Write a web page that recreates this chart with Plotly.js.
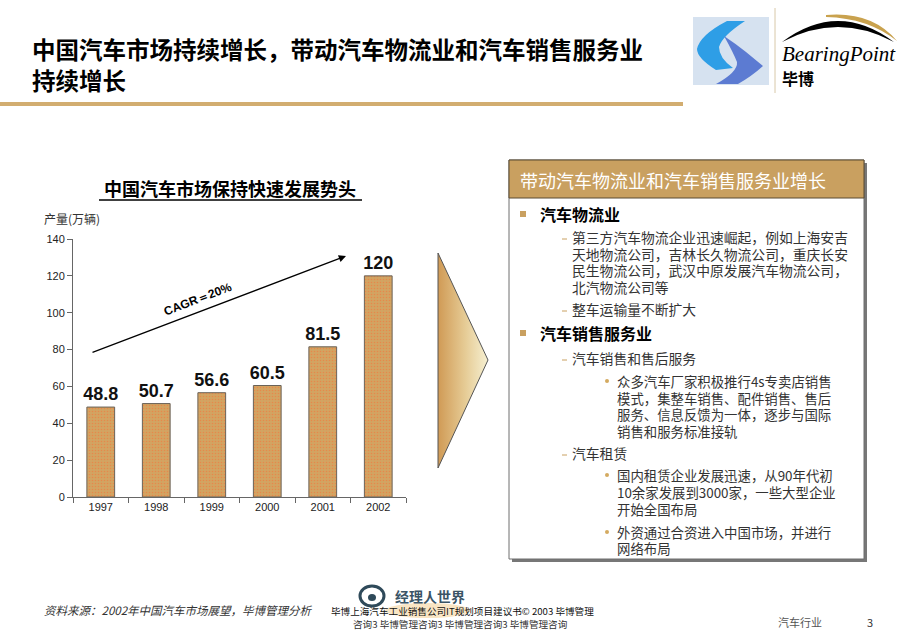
<!DOCTYPE html>
<html>
<head>
<meta charset="utf-8">
<script src="https://cdn.plot.ly/plotly-3.0.1.min.js"></script>
<style>
html,body{margin:0;padding:0;background:#fff;}
#chart{width:920px;height:637px;}
</style>
</head>
<body>
<div id="chart"></div>
<script>
// ---- data ----
var years = ['1997', '1998', '1999', '2000', '2001', '2002'];
var production = [48.8, 50.7, 56.6, 60.5, 81.5, 120];
var yTicks = [0, 20, 40, 60, 80, 100, 120, 140];

var pageTitle1 = '中国汽车市场持续增长，带动汽车物流业和汽车销售服务业';
var pageTitle2 = '持续增长';
var chartTitle = '中国汽车市场保持快速发展势头';
var yLabel = '产量(万辆)';
var cagrLabel = 'CAGR＝20%';
var panelTitle = '带动汽车物流业和汽车销售服务业增长';
var panelLines = [
  {lvl: 0, t: '汽车物流业'},
  {lvl: 1, t: '第三方汽车物流企业迅速崛起，例如上海安吉', mark: true},
  {lvl: 1, t: '天地物流公司，吉林长久物流公司，重庆长安'},
  {lvl: 1, t: '民生物流公司，武汉中原发展汽车物流公司，'},
  {lvl: 1, t: '北汽物流公司等'},
  {lvl: 1, t: '整车运输量不断扩大', mark: true},
  {lvl: 0, t: '汽车销售服务业'},
  {lvl: 1, t: '汽车销售和售后服务', mark: true},
  {lvl: 2, t: '众多汽车厂家积极推行4s专卖店销售', mark: true},
  {lvl: 2, t: '模式，集整车销售、配件销售、售后'},
  {lvl: 2, t: '服务、信息反馈为一体，逐步与国际'},
  {lvl: 2, t: '销售和服务标准接轨'},
  {lvl: 1, t: '汽车租赁', mark: true},
  {lvl: 2, t: '国内租赁企业发展迅速，从90年代初', mark: true},
  {lvl: 2, t: '10余家发展到3000家，一些大型企业'},
  {lvl: 2, t: '开始全国布局'},
  {lvl: 2, t: '外资通过合资进入中国市场，并进行', mark: true},
  {lvl: 2, t: '网络布局'}
];
var panelY = [214, 237, 253.5, 270, 287, 309, 333, 358, 381, 397.5, 414, 431, 453, 475, 492, 509, 532, 548];
var sourceText = '资料来源：2002年中国汽车市场展望，毕博管理分析';
var footer1 = '毕博上海汽车工业销售公司IT规划项目建议书© 2003 毕博管理';
var footer2 = '咨询3 毕博管理咨询3 毕博管理咨询3 毕博管理咨询';
var sectionText = '汽车行业';
var pageNum = '3';

// ---- layout helpers (pixel overlay axes x2/y2) ----
var W = 920, H = 637;
var CJK = '"Noto Sans CJK SC", "Noto Sans", sans-serif';
var ARIAL = 'Arial, "Liberation Sans", sans-serif';

var plotL = 73, plotR = 406, plotT = 239, plotB = 497;

var shapes = [];
var ann = [];
function rect(x0, y0, x1, y1, fill, line, lw) {
  shapes.push({type: 'rect', xref: 'x2', yref: 'y2', x0: x0, y0: y0, x1: x1, y1: y1,
    fillcolor: fill, line: {color: line || fill, width: lw === undefined ? 0 : lw}, layer: 'above'});
}
function txt(x, y, t, size, color, opts) {
  opts = opts || {};
  ann.push({xref: 'x2', yref: 'y2', x: x, y: y, text: t, showarrow: false,
    xanchor: opts.xa || 'left', yanchor: opts.ya || 'middle', align: opts.align || 'left',
    textangle: opts.angle || 0,
    font: {family: opts.family || CJK, size: size, color: color, weight: opts.weight || 'normal', style: opts.style || 'normal'},
    borderpad: 0});
}

// page title
txt(31, 31, pageTitle1 + '<br>' + pageTitle2, 23.5, '#000', {weight: 'bold', ya: 'top'});
rect(0, 102, 683, 106, '#D2AD70');

// logo
rect(693, 17, 769, 85, '#D6E2F0');
shapes.push({type: 'path', xref: 'x2', yref: 'y2', layer: 'above',
  path: 'M 727 21 L 745 21 Q 722 36 719 47 Q 719 58 733 68 L 716 70 Q 697 58 697 49 Q 700 35 727 21 Z',
  fillcolor: '#2E9EE6', line: {width: 0}});
shapes.push({type: 'path', xref: 'x2', yref: 'y2', layer: 'above',
  path: 'M 724 36 Q 736 44 746 52 L 763 66 Q 752 76 738 84 L 716 84 Q 738 72 737 62 Q 733 52 724 36 Z',
  fillcolor: '#5C7BD2', line: {width: 0}});
shapes.push({type: 'line', xref: 'x2', yref: 'y2', x0: 775, x1: 775, y0: 8, y1: 93,
  line: {color: '#D8C8A8', width: 1}, layer: 'above'});
shapes.push({type: 'path', xref: 'x2', yref: 'y2', layer: 'above',
  path: 'M 782 42 Q 838 0 894 42 Q 838 12 782 42 Z', fillcolor: '#000', line: {width: 0}});
shapes.push({type: 'path', xref: 'x2', yref: 'y2', layer: 'above',
  path: 'M 826 15 Q 872 11 897 41 Q 868 18 826 17 Z', fillcolor: '#C9A24E', line: {width: 0}});
txt(781, 54, 'BearingPoint', 21, '#000', {family: '"Liberation Serif", "DejaVu Serif", serif', style: 'italic'});
txt(781, 78, '毕博', 16, '#000', {weight: 'bold'});

// chart title + labels
txt(230, 188, chartTitle, 18, '#000', {xa: 'center', weight: 'bold'});
shapes.push({type: 'line', xref: 'x2', yref: 'y2', x0: 99, x1: 362, y0: 200, y1: 200,
  line: {color: '#000', width: 1.5}, layer: 'above'});
txt(43, 218, yLabel, 12, '#333');

// CAGR arrow
ann.push({xref: 'x2', yref: 'y2', axref: 'x2', ayref: 'y2', x: 346, y: 256, ax: 91, ay: 353,
  showarrow: true, arrowhead: 2, arrowsize: 1.2, arrowwidth: 1.2, arrowcolor: '#000', text: ''});
txt(198, 299, '<b>' + cagrLabel + '</b>', 12, '#000', {xa: 'center', family: ARIAL, angle: -21});

// right panel
rect(512, 163, 867, 562, '#777');           // shadow
rect(509, 160, 864, 559, '#FFFFFF', '#6E6E6E', 1);
rect(509, 160, 864, 198, '#C9A060', '#5A4A30', 1);
txt(519, 180, panelTitle, 18, '#FFFFFF');
for (var i = 0; i < panelLines.length; i++) {
  var L = panelLines[i], y = panelY[i];
  if (L.lvl === 0) {
    rect(520, y - 3, 526, y + 3, '#C9A060');
    txt(539, y, L.t, 16, '#000', {weight: 'bold'});
  } else if (L.lvl === 1) {
    if (L.mark) shapes.push({type: 'line', xref: 'x2', yref: 'y2', x0: 562, x1: 567, y0: y + 2, y1: y + 2,
      line: {color: '#C9A060', width: 1}, layer: 'above'});
    txt(571, y, L.t, 13.8, '#333');
  } else {
    if (L.mark) shapes.push({type: 'circle', xref: 'x2', yref: 'y2', x0: 605, x1: 609, y0: y - 2, y1: y + 2,
      fillcolor: '#D4AA60', line: {width: 0}, layer: 'above'});
    txt(616, y, L.t, 13.4, '#333');
  }
}

// footer
txt(43, 610, sourceText, 11.5, '#333', {style: 'italic'});
shapes.push({type: 'circle', xref: 'x2', yref: 'y2', x0: 360, x1: 384, y0: 586, y1: 606,
  fillcolor: 'rgba(0,0,0,0)', line: {color: '#2F4A5A', width: 3}, layer: 'above'});
shapes.push({type: 'circle', xref: 'x2', yref: 'y2', x0: 368, x1: 376, y0: 594, y1: 601,
  fillcolor: '#2F4A5A', line: {width: 0}, layer: 'above'});
shapes.push({type: 'circle', xref: 'x2', yref: 'y2', x0: 385, x1: 470, y0: 603, y1: 618,
  fillcolor: 'rgba(235,170,60,0.30)', line: {width: 0}, layer: 'above'});
txt(394, 596, '<b>经理人世界</b>', 14, '#3A5466');
txt(462, 611, footer1, 9.6, '#111', {xa: 'center'});
txt(460, 624, footer2, 9.6, '#333', {xa: 'center'});
txt(777, 622, sectionText, 11, '#555');
txt(866, 622, pageNum, 11, '#333');

// ---- traces ----
var bars = {
  type: 'bar', x: years, y: production, xaxis: 'x', yaxis: 'y',
  marker: {color: '#D2A462', line: {color: '#6A6258', width: 1},
    pattern: {shape: '.', bgcolor: '#D2A462', fgcolor: '#E8884A', size: 3, solidity: 0.2}},
  texttemplate: '<b>%{y}</b>', textposition: 'outside', cliponaxis: false, constraintext: 'none',
  textfont: {family: ARIAL, size: 18, color: '#111'},
  hoverinfo: 'skip'
};
var tri = {
  type: 'scatter', mode: 'lines', xaxis: 'x2', yaxis: 'y2',
  x: [438, 488, 438, 438], y: [253, 360, 468, 253],
  fill: 'toself',
  fillgradient: {type: 'horizontal', colorscale: [[0, '#D09A55'], [0.55, '#E6CC96'], [1, '#F6F0D2']]},
  line: {color: '#555', width: 1}, hoverinfo: 'skip'
};

var layout = {
  width: W, height: H,
  margin: {l: 0, r: 0, t: 0, b: 0},
  paper_bgcolor: '#fff', plot_bgcolor: 'rgba(0,0,0,0)',
  showlegend: false, bargap: 0.5,
  xaxis: {domain: [plotL / W, plotR / W], anchor: 'y', type: 'category',
    tickson: 'boundaries', ticks: 'outside', ticklen: 5, tickcolor: '#666',
    showline: true, linecolor: '#666', linewidth: 1, showgrid: false, fixedrange: true,
    tickfont: {family: ARIAL, size: 11, color: '#222'}},
  yaxis: {domain: [1 - plotB / H, 1 - plotT / H], anchor: 'x', range: [0, 140],
    tickvals: yTicks, ticks: 'outside', ticklen: 5, tickcolor: '#666',
    showline: true, linecolor: '#666', linewidth: 1, showgrid: false, zeroline: false,
    tickfont: {family: ARIAL, size: 11, color: '#222'}, fixedrange: true},
  xaxis2: {domain: [0, 1], anchor: 'y2', range: [0, W], visible: false, fixedrange: true},
  yaxis2: {domain: [0, 1], anchor: 'x2', range: [H, 0], visible: false, fixedrange: true},
  shapes: shapes,
  annotations: ann
};

Plotly.newPlot('chart', [bars, tri], layout, {displayModeBar: false, staticPlot: true});
</script>
</body>
</html>
